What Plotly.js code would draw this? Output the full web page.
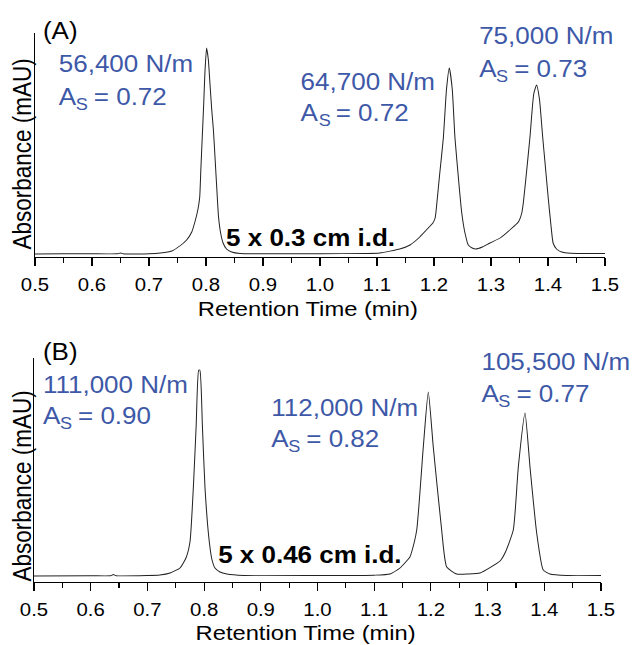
<!DOCTYPE html>
<html>
<head>
<meta charset="utf-8">
<script src="https://cdn.plot.ly/plotly-3.0.1.min.js"></script>
<style>
  html, body { margin: 0; padding: 0; background: #fff; overflow: hidden; }
  #wrap { width: 561px; height: 645px; transform: scaleX(1.1301); transform-origin: 0 0; }
  #plot { width: 561px; height: 645px; }
</style>
</head>
<body>
<div id="wrap"><div id="plot"></div></div>
<script>
// Panel A: 5 x 0.3 cm i.d. column (retention time in min, absorbance in arbitrary mAU units)
const timeA = [0.50, 0.55, 0.60, 0.645, 0.65, 0.655, 0.70, 0.72, 0.74, 0.754, 0.766, 0.775, 0.781, 0.786, 0.789, 0.791, 0.794, 0.796, 0.798, 0.801, 0.804, 0.807, 0.810, 0.813, 0.816, 0.819, 0.822, 0.826, 0.830, 0.836, 0.845, 0.86, 0.90, 1.00, 1.08, 1.105, 1.14, 1.158, 1.175, 1.19, 1.198, 1.202, 1.2035, 1.21, 1.2164, 1.222, 1.2269, 1.232, 1.2368, 1.243, 1.2485, 1.254, 1.2602, 1.267, 1.273, 1.285, 1.298, 1.316, 1.335, 1.348, 1.354, 1.3567, 1.362, 1.3684, 1.375, 1.380, 1.385, 1.3907, 1.395, 1.4006, 1.405, 1.409, 1.415, 1.424, 1.44, 1.50];
const absA  = [0, 0.3, 0.2, 0.3, 1.0, 0.3, 0.3, 1, 3, 8, 14, 22, 33, 45, 57, 85, 124, 150, 180, 206, 195, 170, 145, 124, 95, 65, 37, 20, 11, 5, 2, 0.5, 0.3, 0.3, 0.5, 1, 5, 9, 17, 26, 31, 36, 42, 80, 116, 165, 186, 165, 116, 75, 42, 22, 9, 6, 5, 7, 11, 16, 25, 32, 41, 51, 80, 117, 160, 169, 155, 117, 90, 55, 30, 11, 5, 2, 0.8, 0.5];

// Panel B: 5 x 0.46 cm i.d. column
const timeB = [0.50, 0.60, 0.635, 0.64, 0.645, 0.70, 0.722, 0.74, 0.7575, 0.768, 0.7751, 0.781, 0.786, 0.7905, 0.7925, 0.797, 0.8016, 0.8092, 0.814, 0.8192, 0.828, 0.84, 0.87, 1.00, 1.10, 1.128, 1.1455, 1.163, 1.1661, 1.175, 1.1866, 1.1954, 1.2042, 1.219, 1.2279, 1.2455, 1.265, 1.2866, 1.3219, 1.3307, 1.3453, 1.3542, 1.366, 1.3748, 1.3866, 1.3982, 1.41, 1.44, 1.50];
const absB  = [0, 0.3, 0.3, 1.5, 0.3, 0.5, 1, 3, 8, 18, 34, 88, 150, 206, 206, 150, 88, 34, 16, 8, 4, 2, 0.5, 0.5, 0.8, 2, 8, 19, 24, 46, 129, 184, 129, 46, 9, 2, 2, 3, 15, 23, 46, 109, 163, 109, 43, 6, 2, 0.5, 0.5];

const tickVals = [0.5, 0.6, 0.7, 0.8, 0.9, 1.0, 1.1, 1.2, 1.3, 1.4, 1.5];
const tickText = ['0.5', '0.6', '0.7', '0.8', '0.9', '1.0', '1.1', '1.2', '1.3', '1.4', '1.5'];

const plateLabels = ['56,400 N/m', '64,700 N/m', '75,000 N/m', '111,000 N/m', '112,000 N/m', '105,500 N/m'];
const asymValues  = ['0.72', '0.72', '0.73', '0.90', '0.82', '0.77'];
const columnLabels = ['5 x 0.3 cm i.d.', '5 x 0.46 cm i.d.'];
const panelLabels = ['(A)', '(B)'];
const xTitle = 'Retention Time (min)';
const yTitle = 'Absorbance (mAU)';

const FONT = 'Liberation Sans, Arial, Helvetica, sans-serif';
const BLUE = 'rgb(62,88,168)';
const W = 634, H = 645;
const fx = px => px / W;
const fy = py => (H - py) / H;

function xAxis(domain, anchor) {
  return {
    domain: domain, anchor: anchor, range: [0.5, 1.5],
    showline: true, linecolor: '#000', linewidth: 1, mirror: false,
    showgrid: false, zeroline: false,
    ticks: 'outside', ticklen: 8, tickwidth: 1, tickcolor: '#000',
    tickvals: tickVals, ticktext: tickText, ticklabelstandoff: 3,
    tickfont: {family: FONT, size: 18, color: '#000'},
    minor: {ticks: 'outside', ticklen: 5, tickwidth: 1, tickcolor: '#000', dtick: 0.05, tick0: 0.5, showgrid: false}
  };
}
function yAxis(domain, anchor, range) {
  return {
    domain: domain, anchor: anchor, range: range,
    showline: true, linecolor: '#000', linewidth: 1,
    showgrid: false, zeroline: false, ticks: '', showticklabels: false
  };
}

const lineStyle = {color: '#222', width: 0.9, shape: 'spline', smoothing: 0.5};
const traces = [
  {x: timeA, y: absA, xaxis: 'x', yaxis: 'y', type: 'scatter', mode: 'lines',
   line: lineStyle, hoverinfo: 'skip', showlegend: false},
  {x: timeB, y: absB, xaxis: 'x2', yaxis: 'y2', type: 'scatter', mode: 'lines',
   line: lineStyle, hoverinfo: 'skip', showlegend: false}
];

// text positions (left edge px, cap-centre px) in the 634x645 picture
const platePos = [[58, 64], [300, 81.7], [478, 36], [42, 385], [270, 408], [480, 362]];
const asymPos  = [[58, 96.7], [300, 113], [478, 69], [42, 416], [270, 439], [480, 394]];
const colPos   = [[225, 237.5], [217, 554.7]];
const panelPos = [[42, 31], [42, 352]];
const xTitlePos = [[307.5, 308], [305.5, 632]];
const yTitlePos = [[22, 154], [22, 486]];

function ann(text, px, py, size, color, extra) {
  return Object.assign({
    text: text, xref: 'paper', yref: 'paper', x: fx(px), y: fy(py),
    xanchor: 'left', yanchor: 'middle', showarrow: false, borderpad: 0,
    font: {family: FONT, size: size, color: color}
  }, extra || {});
}

const annotations = [];
plateLabels.forEach((t, i) => annotations.push(ann(t, platePos[i][0], platePos[i][1], 23, BLUE)));
asymValues.forEach((t, i) => {
  const [px, py] = asymPos[i];
  annotations.push(ann('A', px, py, 23, BLUE));
  annotations.push(ann('S', px + 17, py + 7.5, 16, BLUE));
  annotations.push(ann('= ' + t, px + 35, py, 23, BLUE));
});
columnLabels.forEach((t, i) => annotations.push(ann('<b>' + t + '</b>', colPos[i][0], colPos[i][1], 23, '#000')));
panelLabels.forEach((t, i) => annotations.push(ann(t, panelPos[i][0], panelPos[i][1], 23, '#000')));
xTitlePos.forEach(p => annotations.push(ann(xTitle, p[0], p[1], 21, '#000', {xanchor: 'center'})));
yTitlePos.forEach(p => annotations.push(ann(yTitle, p[0], p[1], 22.5, '#000', {xanchor: 'center', textangle: -90})));

const layout = {
  width: 561, height: 645,
  margin: {l: 0, r: 0, t: 0, b: 0},
  paper_bgcolor: '#fff', plot_bgcolor: '#fff',
  showlegend: false,
  xaxis: xAxis([fx(35), fx(605)], 'y'),
  yaxis: yAxis([fy(257), fy(33)], 'x', [-3, 221]),
  xaxis2: xAxis([fx(34), fx(601)], 'y2'),
  yaxis2: yAxis([fy(582), fy(358)], 'x2', [-6, 218]),
  annotations: annotations
};

Plotly.newPlot('plot', traces, layout, {staticPlot: true, displayModeBar: false});
</script>
</body>
</html>
